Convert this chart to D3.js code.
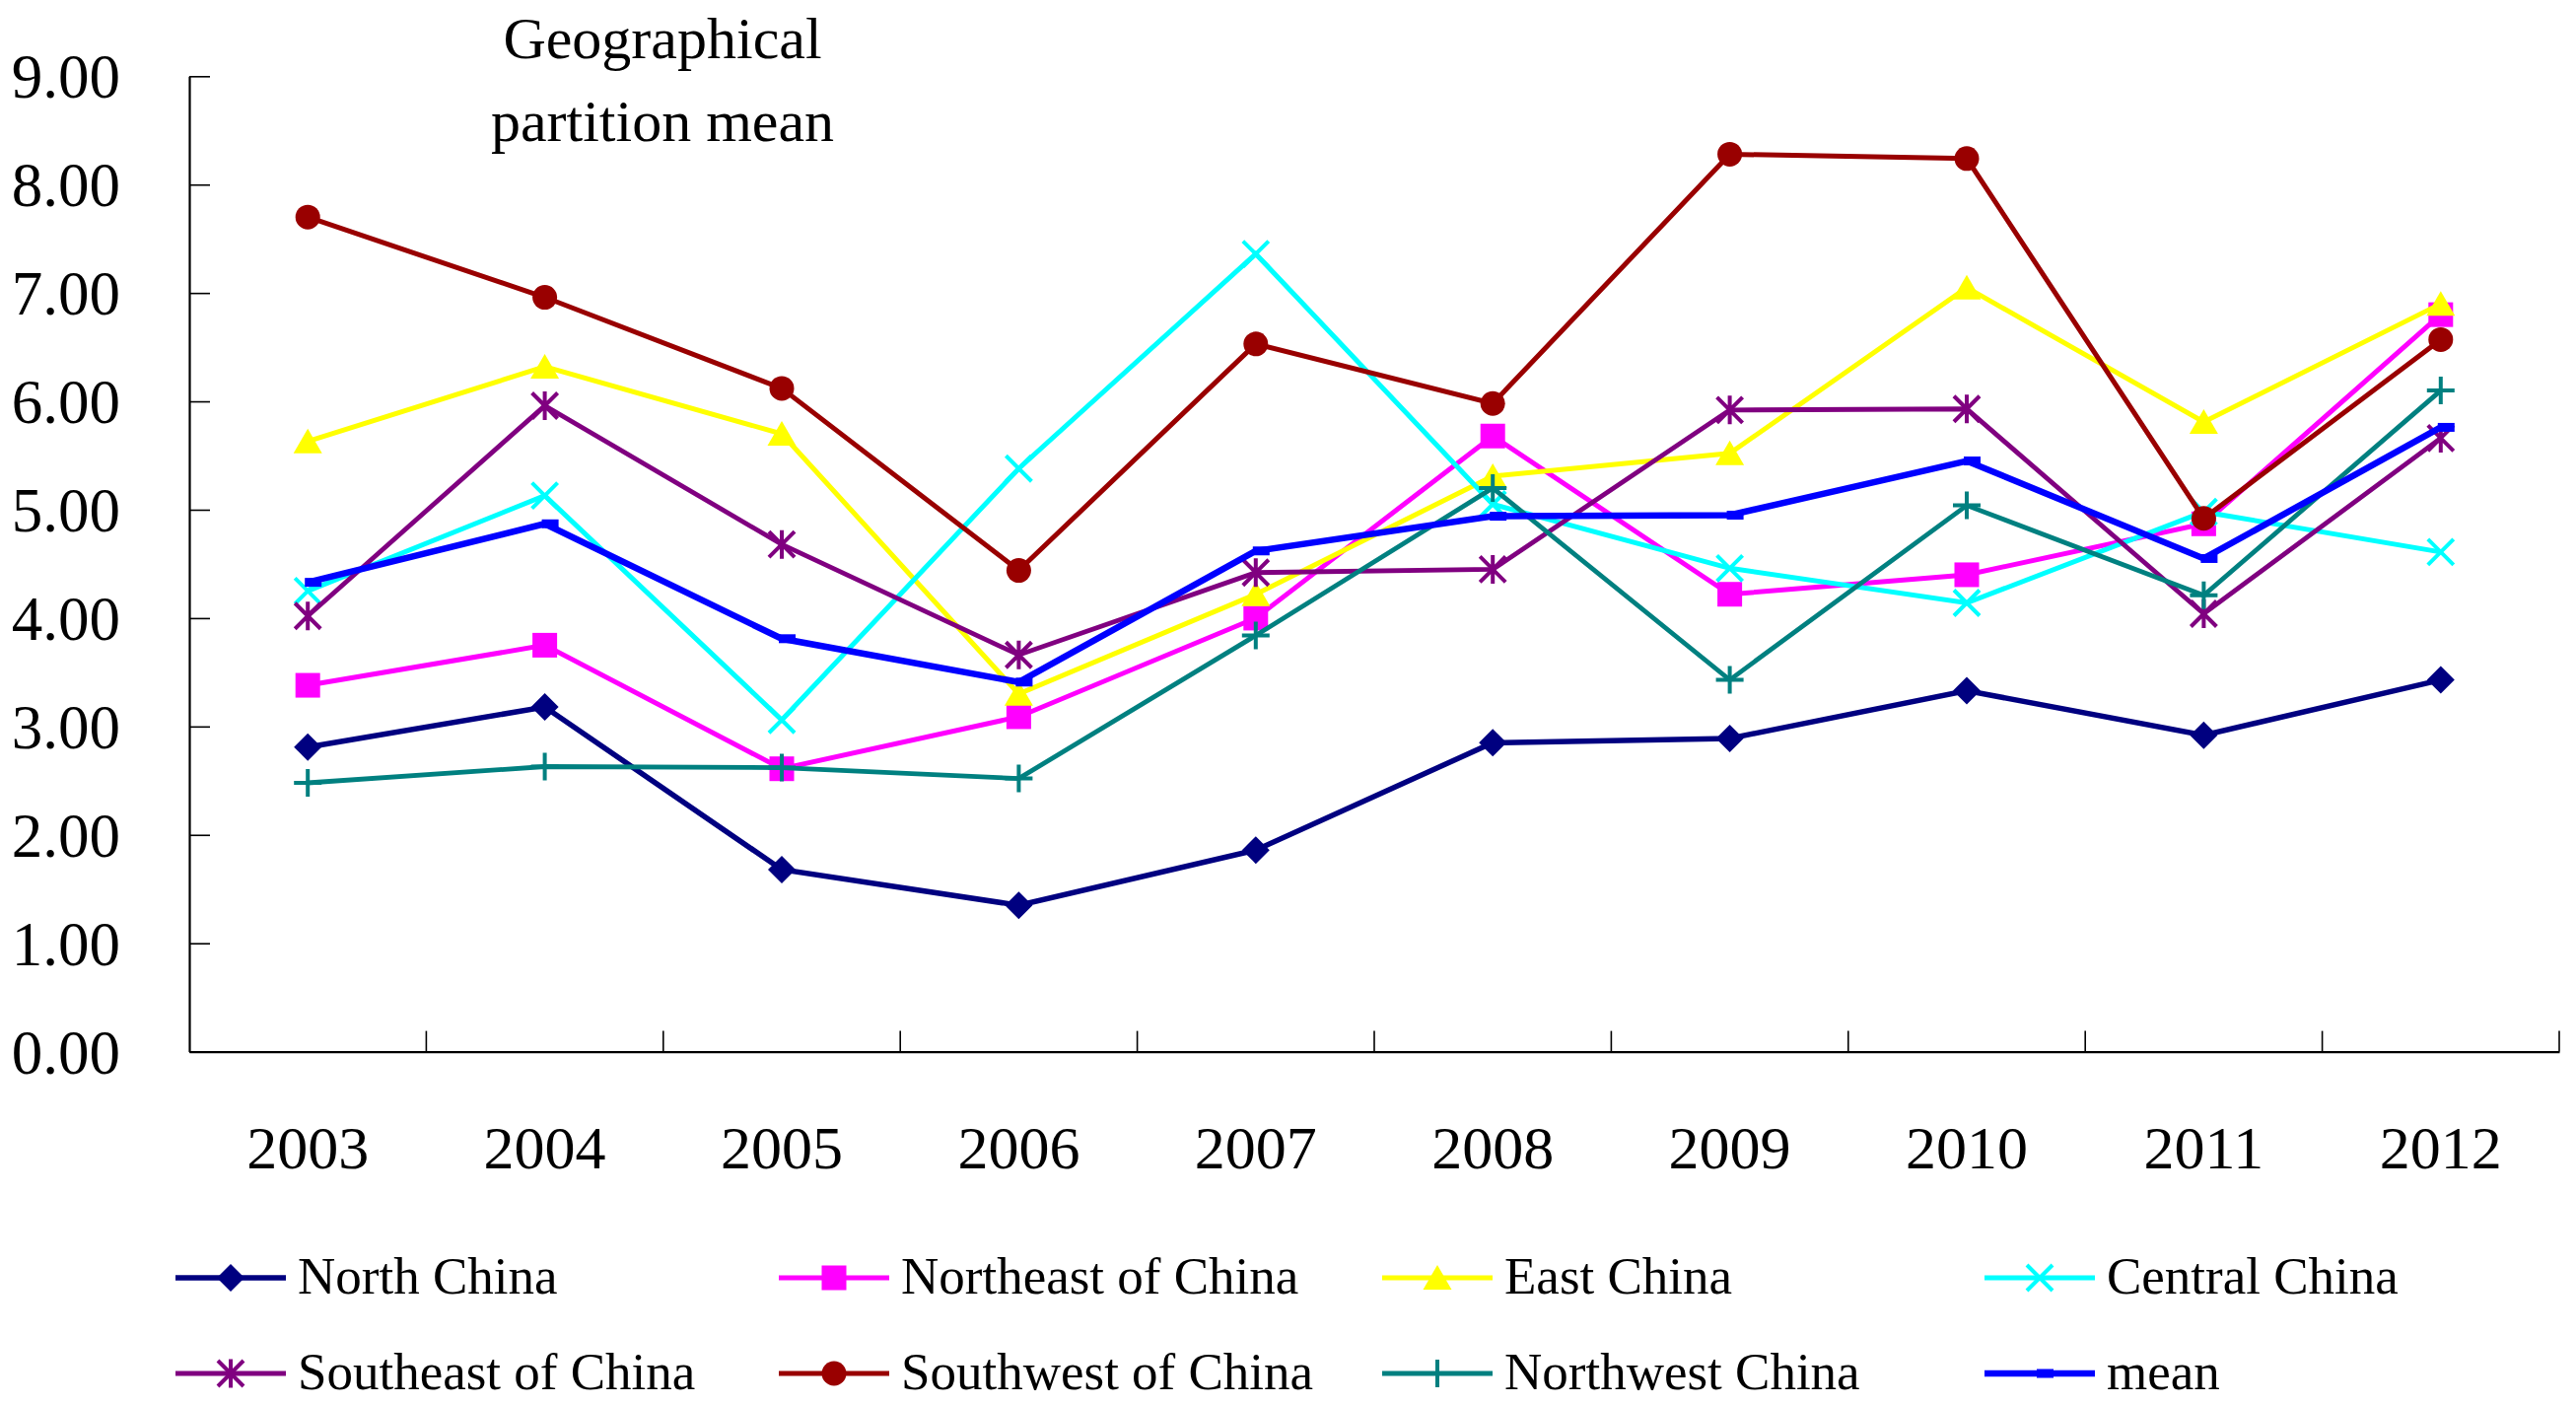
<!DOCTYPE html>
<html>
<head>
<meta charset="utf-8">
<script src="https://cdn.jsdelivr.net/npm/d3@7"></script>
<style>
  html, body { margin: 0; padding: 0; background: #fff; }
  svg { display: block; }
  text { font-family: "Liberation Serif", "Times New Roman", serif; fill: #000; }
</style>
</head>
<body>
<svg id="chart" width="2613" height="1425"></svg>
<script>
// ---- data ----
const years = ["2003","2004","2005","2006","2007","2008","2009","2010","2011","2012"];
const yTicks = [0,1,2,3,4,5,6,7,8,9];
const seriesNames = ["North China","Northeast of China","East China","Central China",
                     "Southeast of China","Southwest of China","Northwest China","mean"];
const northChina     = [2.81, 3.18, 1.68, 1.35, 1.86, 2.85, 2.89, 3.33, 2.92, 3.43];
const northeastChina = [3.38, 3.75, 2.61, 3.09, 4.00, 5.68, 4.22, 4.40, 4.87, 6.80];
const eastChina      = [5.63, 6.32, 5.70, 3.30, 4.22, 5.31, 5.52, 7.05, 5.81, 6.90];
const centralChina   = [4.25, 5.13, 3.06, 5.38, 7.36, 5.05, 4.46, 4.14, 4.98, 4.61];
const southeastChina = [4.02, 5.96, 4.68, 3.66, 4.42, 4.45, 5.92, 5.93, 4.04, 5.66];
const southwestChina = [7.70, 6.96, 6.12, 4.44, 6.53, 5.98, 8.28, 8.24, 4.92, 6.57];
const northwestChina = [2.48, 2.63, 2.62, 2.52, 3.84, 5.20, 3.43, 5.04, 4.21, 6.10];
const meanValues     = [4.33, 4.87, 3.81, 3.41, 4.62, 4.94, 4.95, 5.45, 4.55, 5.76];
const titleLines = ["Geographical", "partition mean"];

// ---- styles ----
const seriesValues = [northChina, northeastChina, eastChina, centralChina,
                      southeastChina, southwestChina, northwestChina, meanValues];
const colors  = ["#000080","#FF00FF","#FFFF00","#00FFFF","#800080","#990000","#008080","#0000FF"];
const markers = ["diamond","square","triangle","x","star","circle","plus","dash"];
const widths  = [5.5, 5, 5, 5, 4.8, 5, 4.8, 6.5];

const series = seriesNames.map((name, i) => ({
  name, values: seriesValues[i], color: colors[i], marker: markers[i], width: widths[i]
}));

const svg = d3.select("#chart");
svg.append("rect").attr("width", 2613).attr("height", 1425).attr("fill", "#fff");

const plotLeft = 192, plotRight = 2596, plotTop = 77.3, plotBottom = 1066.6;
const x = d3.scaleBand().domain(years).range([plotLeft, plotRight]).padding(0);
const y = d3.scaleLinear().domain([0, 9]).range([plotBottom, plotTop]);
const cx = d => x(d) + x.bandwidth() / 2;

// ---- y axis ----
const yAxis = d3.axisLeft(y).tickValues(yTicks).tickSize(-21).tickSizeOuter(0)
  .tickPadding(70).tickFormat(d => d.toFixed(2));
const gy = svg.append("g").attr("transform", `translate(${plotLeft},0)`).call(yAxis);
gy.select(".domain").attr("stroke", "#000").attr("stroke-width", 2.2);
gy.selectAll(".tick line").attr("stroke", "#000").attr("stroke-width", 1.6);
gy.selectAll(".tick text").attr("font-size", 63).attr("dy", "0.34em")
  .attr("font-family", "Liberation Serif, Times New Roman, serif").attr("fill", "#000");

// ---- x axis ----
const xAxis = d3.axisBottom(x).tickSize(0).tickSizeOuter(0);
const gx = svg.append("g").attr("transform", `translate(0,${plotBottom})`).call(xAxis);
gx.select(".domain").attr("stroke", "#000").attr("stroke-width", 2.2);
gx.selectAll(".tick text").attr("font-size", 62).attr("y", 118.5).attr("dy", 0)
  .attr("font-family", "Liberation Serif, Times New Roman, serif").attr("fill", "#000");
// category boundary ticks (pointing inward)
const boundaries = years.slice(1).map(d => x(d)).concat([x.range()[1]]);
svg.append("g").selectAll("line").data(boundaries).join("line")
  .attr("x1", d => d).attr("x2", d => d)
  .attr("y1", plotBottom).attr("y2", plotBottom - 21)
  .attr("stroke", "#000").attr("stroke-width", 1.6);

// ---- title ----
svg.append("g").selectAll("text").data(titleLines).join("text")
  .attr("x", 672).attr("y", (d, i) => 59 + i * 84)
  .attr("text-anchor", "middle").attr("font-size", 60).text(d => d);

// ---- markers ----
function drawMarker(g, type, color) {
  switch (type) {
    case "diamond":
      g.append("path").attr("d", "M0,-14L14,0L0,14L-14,0Z").attr("fill", color); break;
    case "square":
      g.append("rect").attr("x", -12.5).attr("y", -12.5).attr("width", 25).attr("height", 25).attr("fill", color); break;
    case "triangle":
      g.append("path").attr("d", "M0,-13L14.5,12L-14.5,12Z").attr("fill", color); break;
    case "circle":
      g.append("circle").attr("r", 12.5).attr("fill", color); break;
    case "x":
      g.append("path").attr("d", "M-13,-13L13,13M-13,13L13,-13")
        .attr("stroke", color).attr("stroke-width", 4).attr("fill", "none"); break;
    case "star":
      g.append("path").attr("d", "M-13,-13L13,13M-13,13L13,-13M0,-14.5L0,14.5")
        .attr("stroke", color).attr("stroke-width", 4).attr("fill", "none"); break;
    case "plus":
      g.append("path").attr("d", "M-14,0L14,0M0,-14L0,14")
        .attr("stroke", color).attr("stroke-width", 4).attr("fill", "none"); break;
    case "dash":
      g.append("rect").attr("x", -3).attr("y", -4.5).attr("width", 17).attr("height", 9).attr("fill", color); break;
  }
}

// ---- series ----
const line = d3.line().x((d, i) => cx(years[i])).y(d => y(d));
series.forEach(s => {
  const g = svg.append("g").attr("class", "series");
  g.append("path").datum(s.values).attr("d", line)
    .attr("fill", "none").attr("stroke", s.color).attr("stroke-width", s.width)
    .attr("stroke-linejoin", "miter");
  s.values.forEach((v, i) => {
    const m = g.append("g").attr("transform", `translate(${cx(years[i])},${y(v)})`);
    drawMarker(m, s.marker, s.color);
  });
});

// ---- legend ----
const legX = [178, 790, 1402, 2013];
const legY = [1296, 1393];
const legend = svg.append("g");
series.forEach((s, i) => {
  const col = i % 4, row = Math.floor(i / 4);
  const g = legend.append("g").attr("transform", `translate(${legX[col]},${legY[row]})`);
  g.append("line").attr("x1", 0).attr("x2", 112).attr("y1", 0).attr("y2", 0)
    .attr("stroke", s.color).attr("stroke-width", s.width);
  const m = g.append("g").attr("transform", "translate(56,0)");
  drawMarker(m, s.marker, s.color);
  g.append("text").attr("x", 124).attr("y", 16).attr("font-size", 53).text(s.name);
});
</script>
</body>
</html>
